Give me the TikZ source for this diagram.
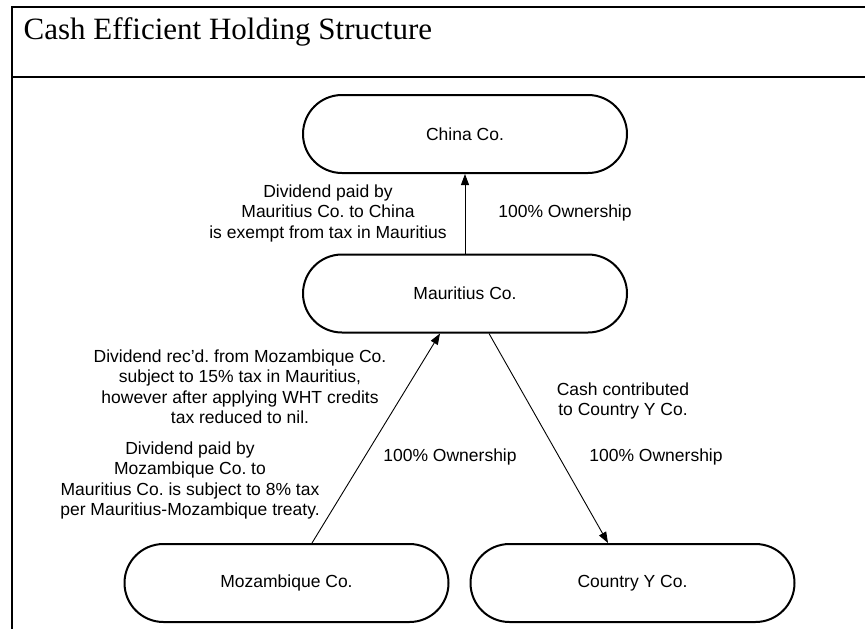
\documentclass[tikz,border=0pt]{standalone}
\usepackage{fontspec}
\setmainfont{Liberation Sans}
\newfontfamily\titlefont{Liberation Serif}
\usetikzlibrary{arrows.meta,shapes.misc}

\begin{document}
\frenchspacing
\begin{tikzpicture}[x=1pt,y=-1pt,
  entity/.style={draw, line width=2pt, rounded rectangle, minimum width=324pt,
    minimum height=78pt, inner sep=0pt, font=\fontsize{17.5}{20.5}\selectfont},
  note/.style={align=center, inner sep=0pt, font=\fontsize{17.5}{20.5}\selectfont},
  link/.style={line width=0.9pt, -{Triangle[length=11pt,width=8pt]}},
  frame/.style={line width=2pt}]
\useasboundingbox (0,0) rectangle (865,629);

% frame and title band
\draw[frame] (865,7) -- (11.5,7) -- (11.5,629);
\draw[frame] (11.5,77) -- (865,77);
\node[anchor=base west, inner sep=0pt, font=\titlefont\fontsize{31}{34}\selectfont]
  (title) at (23.5,39.5) {Cash Efficient Holding Structure};

% entities
\node[entity] (china) at (465,134) {China Co.};
\node[entity] (maur)  at (465,293.5) {Mauritius Co.};
\node[entity] (moz)   at (286.5,583) {Mozambique Co.};
\node[entity] (cy)    at (632.5,583) {Country Y Co.};

% ownership links
\draw[link] (maur.north) -- (china.south);
\draw[link] ([xshift=25.5pt]moz.north) -- ([xshift=-25pt]maur.south);
\draw[link] ([xshift=24pt]maur.south) -- ([xshift=-24.5pt]cy.north);

% annotations
\node[note] (n1) at (328,213) {Dividend paid by\\Mauritius Co. to China\\is exempt from tax in Mauritius};
\node[note] (o1) at (565,213) {100\% Ownership};
\node[note] (n2) at (240,386.5) {Dividend rec’d. from Mozambique Co.\\subject to 15\% tax in Mauritius,\\however after applying WHT credits\\tax reduced to nil.};
\node[note] (n3) at (190,480.5) {Dividend paid by\\Mozambique Co. to\\Mauritius Co. is subject to 8\% tax\\per Mauritius-Mozambique treaty.};
\node[note] (o2) at (450,457) {100\% Ownership};
\node[note] (n4) at (623,401) {Cash contributed\\to Country Y Co.};
\node[note] (o3) at (656,457) {100\% Ownership};
\end{tikzpicture}
\end{document}
